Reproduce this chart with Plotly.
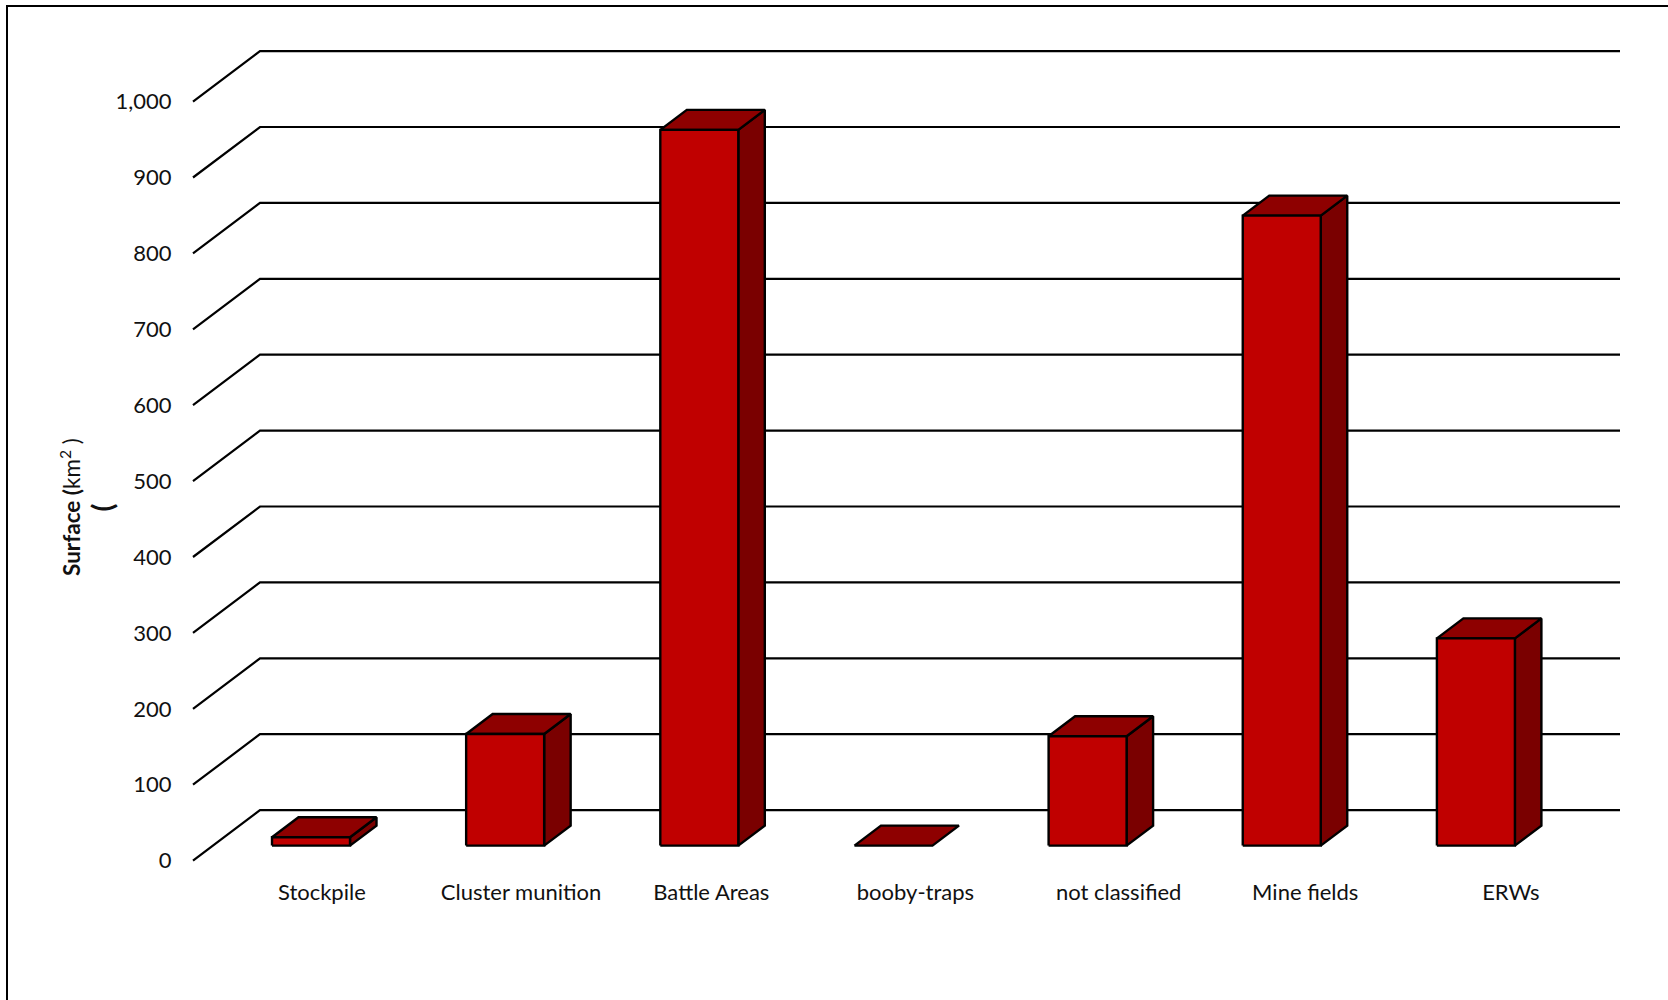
import plotly.graph_objects as go

# --- data ---
categories = ["Stockpile", "Cluster munition", "Battle Areas", "booby-traps",
              "not classified", "Mine fields", "ERWs"]
surface_km2 = [11, 147, 943, 0, 144, 830, 273]
y_ticks = [0, 100, 200, 300, 400, 500, 600, 700, 800, 900, 1000]
# label shift from the slot centre, in category units (labels sit off-centre)
label_shift = [0.056, 0.082, 0.062, 0.113, 0.160, 0.121, 0.180]

# --- layout constants ---
W, H = 1668, 1000
PLOT_L, PLOT_B = 180, 870          # plot-area left / bottom edge in pixels
X0_PX, STEP_PX = 311.0, 194.15     # slot 0 centre and slot spacing
Y0_PX, PX_PER_UNIT = 860.6, 0.759  # value 0 on the front plane
X_PER_PX = 1 / STEP_PX
Y_PER_PX = 1 / PX_PER_UNIT

x_range = [(PLOT_L - X0_PX) * X_PER_PX, (W - X0_PX) * X_PER_PX]
y_range = [(Y0_PX - PLOT_B) * Y_PER_PX, Y0_PX * Y_PER_PX]


def dx(px):
    return px * X_PER_PX


def dy(px):
    return px * Y_PER_PX


FLOOR_DX, FLOOR_DY = 67, 50.5      # side-wall depth of the gridlines
BAR_LIFT = 15                      # bar base above the front plane
BAR_HALF = 39                      # half bar width
BAR_DX, BAR_DY = 26.5, 20          # bar depth
GRID_END = (1620 - X0_PX) * X_PER_PX
GRID_START = (193 - X0_PX) * X_PER_PX

FRONT, TOP, SIDE = "#C00000", "#8E0000", "#7A0000"

fig = go.Figure()

# gridlines with the slanted floor/wall segment
for v in y_ticks:
    fig.add_trace(go.Scatter(
        x=[GRID_START, GRID_START + dx(FLOOR_DX), GRID_END],
        y=[v, v + dy(FLOOR_DY), v + dy(FLOOR_DY)],
        mode="lines", line=dict(color="#000000", width=2.2),
        hoverinfo="skip", showlegend=False))


def face(xs, ys, color):
    fig.add_trace(go.Scatter(
        x=xs, y=ys, mode="lines", fill="toself", fillcolor=color,
        line=dict(color="#000000", width=2.4, simplify=False),
        hoverinfo="skip", showlegend=False))


# pseudo-3D columns
for i, val in enumerate(surface_km2):
    xl, xr = i - dx(BAR_HALF), i + dx(BAR_HALF)
    y0 = dy(BAR_LIFT)
    y1 = y0 + val
    ox, oy = dx(BAR_DX), dy(BAR_DY)
    if val > 0:
        face([xr, xr + ox, xr + ox, xr, xr], [y0, y0 + oy, y1 + oy, y1, y0], SIDE)
    face([xl, xl + ox, xr + ox, xr, xl], [y1, y1 + oy, y1 + oy, y1, y1], TOP)
    if val > 0:
        face([xl, xr, xr, xl, xl], [y0, y0, y1, y1, y0], FRONT)

FONT = "Lato, Carlito, Calibri, sans-serif"
TEXT = "#111111"
PLOT_W = W - PLOT_L


def paper_x(px):
    return (px - PLOT_L) / PLOT_W


def paper_y(px):
    return (PLOT_B - px) / PLOT_B


fig.update_layout(
    width=W, height=H, autosize=False,
    margin=dict(l=PLOT_L, r=0, t=0, b=H - PLOT_B, pad=0),
    plot_bgcolor="#FFFFFF", paper_bgcolor="#FFFFFF",
    showlegend=False,
    font=dict(family=FONT, size=22, color=TEXT),
    xaxis=dict(
        range=x_range, showgrid=False, zeroline=False, showline=False,
        tickmode="array",
        tickvals=[i + s for i, s in enumerate(label_shift)],
        ticktext=categories, ticks="outside", ticklen=3,
        tickcolor="rgba(0,0,0,0)", tickangle=0, fixedrange=True,
    ),
    yaxis=dict(
        range=y_range, showgrid=False, zeroline=False, showline=False,
        tickmode="array", tickvals=y_ticks,
        ticktext=[f"{v:,}" for v in y_ticks],
        ticks="outside", ticklen=3, tickcolor="rgba(0,0,0,0)", fixedrange=True,
    ),
    shapes=[
        dict(type="line", xref="paper", yref="paper",
             x0=paper_x(7), x1=paper_x(7), y0=paper_y(5), y1=paper_y(H),
             line=dict(color="#000000", width=2)),
        dict(type="line", xref="paper", yref="paper",
             x0=paper_x(6), x1=paper_x(W), y0=paper_y(6), y1=paper_y(6),
             line=dict(color="#000000", width=2)),
    ],
    annotations=[
        dict(text="<b>Surface (</b>km<sup>2</sup> )", xref="paper", yref="paper",
             x=paper_x(53), y=paper_y(507), textangle=-90, showarrow=False,
             font=dict(family=FONT, size=22.5, color=TEXT)),
        dict(text="<b>(</b>", xref="paper", yref="paper",
             x=paper_x(81), y=paper_y(508), textangle=-90, showarrow=False,
             font=dict(family=FONT, size=29, color=TEXT)),
    ],
)

fig.write_html("out.html", post_script="document.body.style.margin='0';",
               config={"displayModeBar": False})
